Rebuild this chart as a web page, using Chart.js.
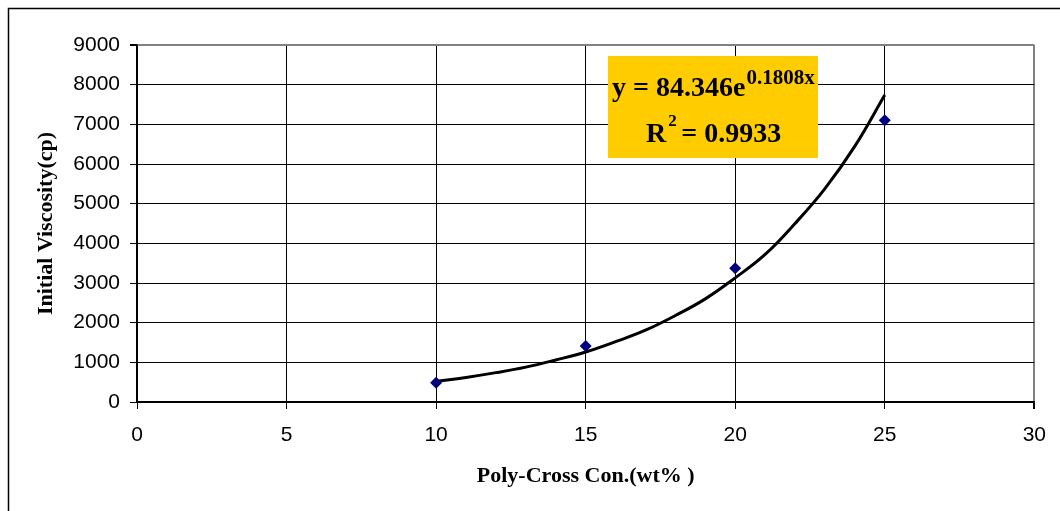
<!DOCTYPE html>
<html>
<head>
<meta charset="utf-8">
<script src="https://cdn.jsdelivr.net/npm/chart.js@4"></script>
<style>
  body { margin: 0; background: #fff; }
  canvas { display: block; }
</style>
</head>
<body>
<canvas id="viscChart" width="1060" height="511"></canvas>
<script>
// measured points
var concentration = [10, 15, 20, 25];
var viscosity = [485, 1410, 3370, 7100];

// exponential trendline
var trendX = [10, 11, 12, 13, 14, 15, 16, 17, 18, 19, 20, 21, 22, 23, 24, 25];
var trendY = [520, 620, 740, 880, 1060, 1260, 1520, 1810, 2180, 2600, 3130, 3720, 4500, 5380, 6450, 7740];

var xTicks = [0, 5, 10, 15, 20, 25, 30];
var yTicks = [0, 1000, 2000, 3000, 4000, 5000, 6000, 7000, 8000, 9000];

var xTitle = "Poly-Cross Con.(wt% )";
var yTitle = "Initial Viscosity(cp)";
var eqMain = "y = 84.346e";
var eqExp = "0.1808x";
var r2Text = "0.9933";

var serif = '"Liberation Serif", "Times New Roman", serif';

var frameAndLabel = {
  id: 'frameAndLabel',
  beforeDraw: function(chart) {
    var c = chart.ctx;
    c.save();
    c.fillStyle = '#fff';
    c.fillRect(0, 0, chart.width, chart.height);
    c.strokeStyle = '#000';
    c.lineWidth = 1.5;
    c.beginPath();
    c.moveTo(8.5, chart.height + 5);
    c.lineTo(8.5, 8.5);
    c.lineTo(chart.width + 5, 8.5);
    c.stroke();
    c.restore();
  },
  afterDraw: function(chart) {
    var c = chart.ctx;
    c.save();
    c.fillStyle = '#FFCC00';
    c.fillRect(608, 56, 210, 102);
    c.fillStyle = '#000';
    c.textBaseline = 'alphabetic';
    c.textAlign = 'left';
    c.font = 'bold 28px ' + serif;
    c.fillText(eqMain, 612, 96);
    var w = c.measureText(eqMain).width;
    c.font = 'bold 21px ' + serif;
    c.fillText(eqExp, 612 + w + 1, 84);
    c.font = 'bold 28px ' + serif;
    c.fillText('R', 646, 142);
    var rw = c.measureText('R').width;
    c.font = 'bold 17px ' + serif;
    c.fillText('2', 646 + rw + 2, 126);
    c.font = 'bold 28px ' + serif;
    c.fillText(' = ' + r2Text, 646 + rw + 8, 142);
    c.restore();
  }
};

function gridColor(ctx) {
  return ctx.tick && ctx.tick.value === ctx.scale.max ? '#808080' : '#000';
}
function gridWidth(ctx) {
  return ctx.tick && ctx.tick.value === ctx.scale.max ? 2 : 1;
}

var ctx = document.getElementById('viscChart').getContext('2d');
new Chart(ctx, {
  type: 'scatter',
  data: {
    datasets: [{
      label: 'trend',
      type: 'line',
      data: trendX.map(function(x, i) { return { x: x, y: trendY[i] }; }),
      borderColor: '#000',
      borderWidth: 3,
      pointRadius: 0,
      tension: 0.4,
      fill: false,
      order: 2
    }, {
      label: 'data',
      data: concentration.map(function(x, i) { return { x: x, y: viscosity[i] }; }),
      pointStyle: 'rectRot',
      pointRadius: 6,
      backgroundColor: '#000080',
      borderColor: '#000080',
      borderWidth: 0,
      order: 1
    }]
  },
  options: {
    responsive: false,
    animation: false,
    layout: { padding: { left: 0, top: 45, right: 23, bottom: 0 } },
    plugins: { legend: { display: false }, tooltip: { enabled: false } },
    scales: {
      x: {
        type: 'linear',
        min: 0, max: 30,
        afterBuildTicks: function(s) { s.ticks = xTicks.map(function(v) { return { value: v }; }); },
        afterFit: function(s) { s.height = 109; },
        ticks: { color: '#000', padding: 14, callback: function(v) { return String(v); },
                 font: { family: '"Liberation Sans", Arial, sans-serif', size: 21 } },
        grid: { color: gridColor, lineWidth: gridWidth, tickLength: 7, tickColor: '#000' },
        border: { color: '#000', width: 1.5 },
        title: { display: true, text: xTitle, color: '#000', padding: { top: 0, bottom: 21 },
                 font: { family: serif, size: 22, weight: 'bold' } }
      },
      y: {
        min: 0, max: 9000,
        afterBuildTicks: function(s) { s.ticks = yTicks.map(function(v) { return { value: v }; }); },
        afterFit: function(s) { s.width = 137; },
        ticks: { color: '#000', padding: 10, callback: function(v) { return String(v); },
                 font: { family: '"Liberation Sans", Arial, sans-serif', size: 21 } },
        grid: { color: gridColor, lineWidth: gridWidth, tickLength: 7, tickColor: '#000' },
        border: { color: '#000', width: 1.5 },
        title: { display: true, text: yTitle, color: '#000', padding: { top: 33, bottom: 0 },
                 font: { family: serif, size: 22, weight: 'bold' } }
      }
    }
  },
  plugins: [frameAndLabel]
});
</script>
</body>
</html>
